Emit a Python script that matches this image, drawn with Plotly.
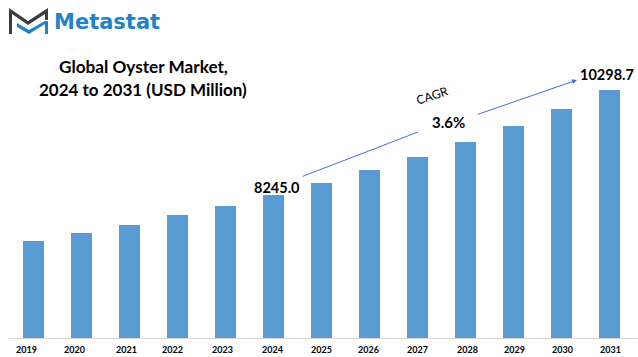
import plotly.graph_objects as go

W, H = 638, 357
years = [2019, 2020, 2021, 2022, 2023, 2024, 2025, 2026, 2027, 2028, 2029, 2030, 2031]
values = [7345, 7502, 7658, 7854, 8030, 8245.0, 8480, 8734, 8988, 9282, 9595, 9927, 10298.7]
tick_labels = [str(y) for y in years]
tick_nudge = [-7, -7, -3, -5, -3, -1, 0, -1, 0, 2, 1, 1, 1]

LEFT, BASE = 9, 338
X0, STEP = 33.5, 48
Y_BOTTOM, PX_UNIT = 5448, 19.56

def px(x): return x / W
def py(y): return 1 - y / H

bar = go.Bar(x=years, y=values, width=21 / STEP, marker=dict(color="#5b9bd5", line=dict(width=0)))
fig = go.Figure(bar)

annos = []
def text(x, y, s, size, family="Lato", color="#000000", bold=True, angle=0):
    annos.append(dict(xref="paper", yref="paper", x=px(x), y=py(y), text=f"<b>{s}</b>" if bold else s,
                      showarrow=False, xanchor="center", yanchor="middle", textangle=angle,
                      font=dict(size=size, family=family, color=color)))

text(143, 66, "Global Oyster Market,", 17.2)
text(143, 89, "2024 to 2031 (USD Million)", 17)
text(107, 22, "Metastat", 21, family="DejaVu Sans", color="#1f83c9")
text(277, 187, "8245.0", 14.5)
text(607, 74, "10298.7", 14.5)
text(449, 122, "3.6%", 15)
text(432, 96, "CAGR", 12, angle=-18, bold=False)

ARROW = "#4472c4"
def arrow(x0, y0, x1, y1, head):
    annos.append(dict(xref="paper", yref="paper", axref="pixel", ayref="pixel",
                      x=px(x1), y=py(y1), ax=x0 - x1, ay=y0 - y1, text="", showarrow=True,
                      arrowhead=head, arrowsize=1, arrowwidth=1, arrowcolor=ARROW))
arrow(301, 177, 418, 132, 0)
arrow(476, 115, 577, 80, 2)

def ppoly(points, color):
    pts = [(px(x), py(y)) for x, y in points]
    p = "M " + " L ".join(f"{x:.5f} {y:.5f}" for x, y in pts) + " Z"
    return dict(type="path", xref="paper", yref="paper", path=p, fillcolor=color, line=dict(width=0))

shapes = [
    ppoly([(9, 8), (28, 21), (48, 8), (48, 20), (45, 20), (45, 14), (28, 25), (12, 14), (12, 34), (9, 34)], "#3c3c3c"),
    ppoly([(17, 23), (29, 30), (45, 21), (45, 34), (48, 34), (48, 21), (45, 21), (45, 24), (29, 34), (17, 27)], "#1f83c9"),
]

fig.update_layout(
    width=W, height=H, autosize=False, margin=dict(l=0, r=0, t=0, b=0),
    paper_bgcolor="white", plot_bgcolor="white", showlegend=False,
    annotations=annos, shapes=shapes,
    xaxis=dict(domain=[LEFT / W, 1],
               range=[2019 + (LEFT - X0) / STEP, 2019 + (W - X0) / STEP],
               tickmode="array",
               tickvals=[y + n / STEP for y, n in zip(years, tick_nudge)],
               ticktext=[f"<b>{t}</b>" for t in tick_labels], ticks="", showgrid=False, zeroline=False,
               showline=True, linecolor="#d9d9d9", linewidth=1, ticklabelstandoff=3,
               tickfont=dict(size=9, family="Lato", color="#000000")),
    yaxis=dict(domain=[(H - BASE) / H, 1], range=[Y_BOTTOM, Y_BOTTOM + BASE * PX_UNIT],
               visible=False, showgrid=False, zeroline=False),
)
fig.write_html("out.html", post_script="document.body.style.margin='0';", config=dict(displayModeBar=False))
